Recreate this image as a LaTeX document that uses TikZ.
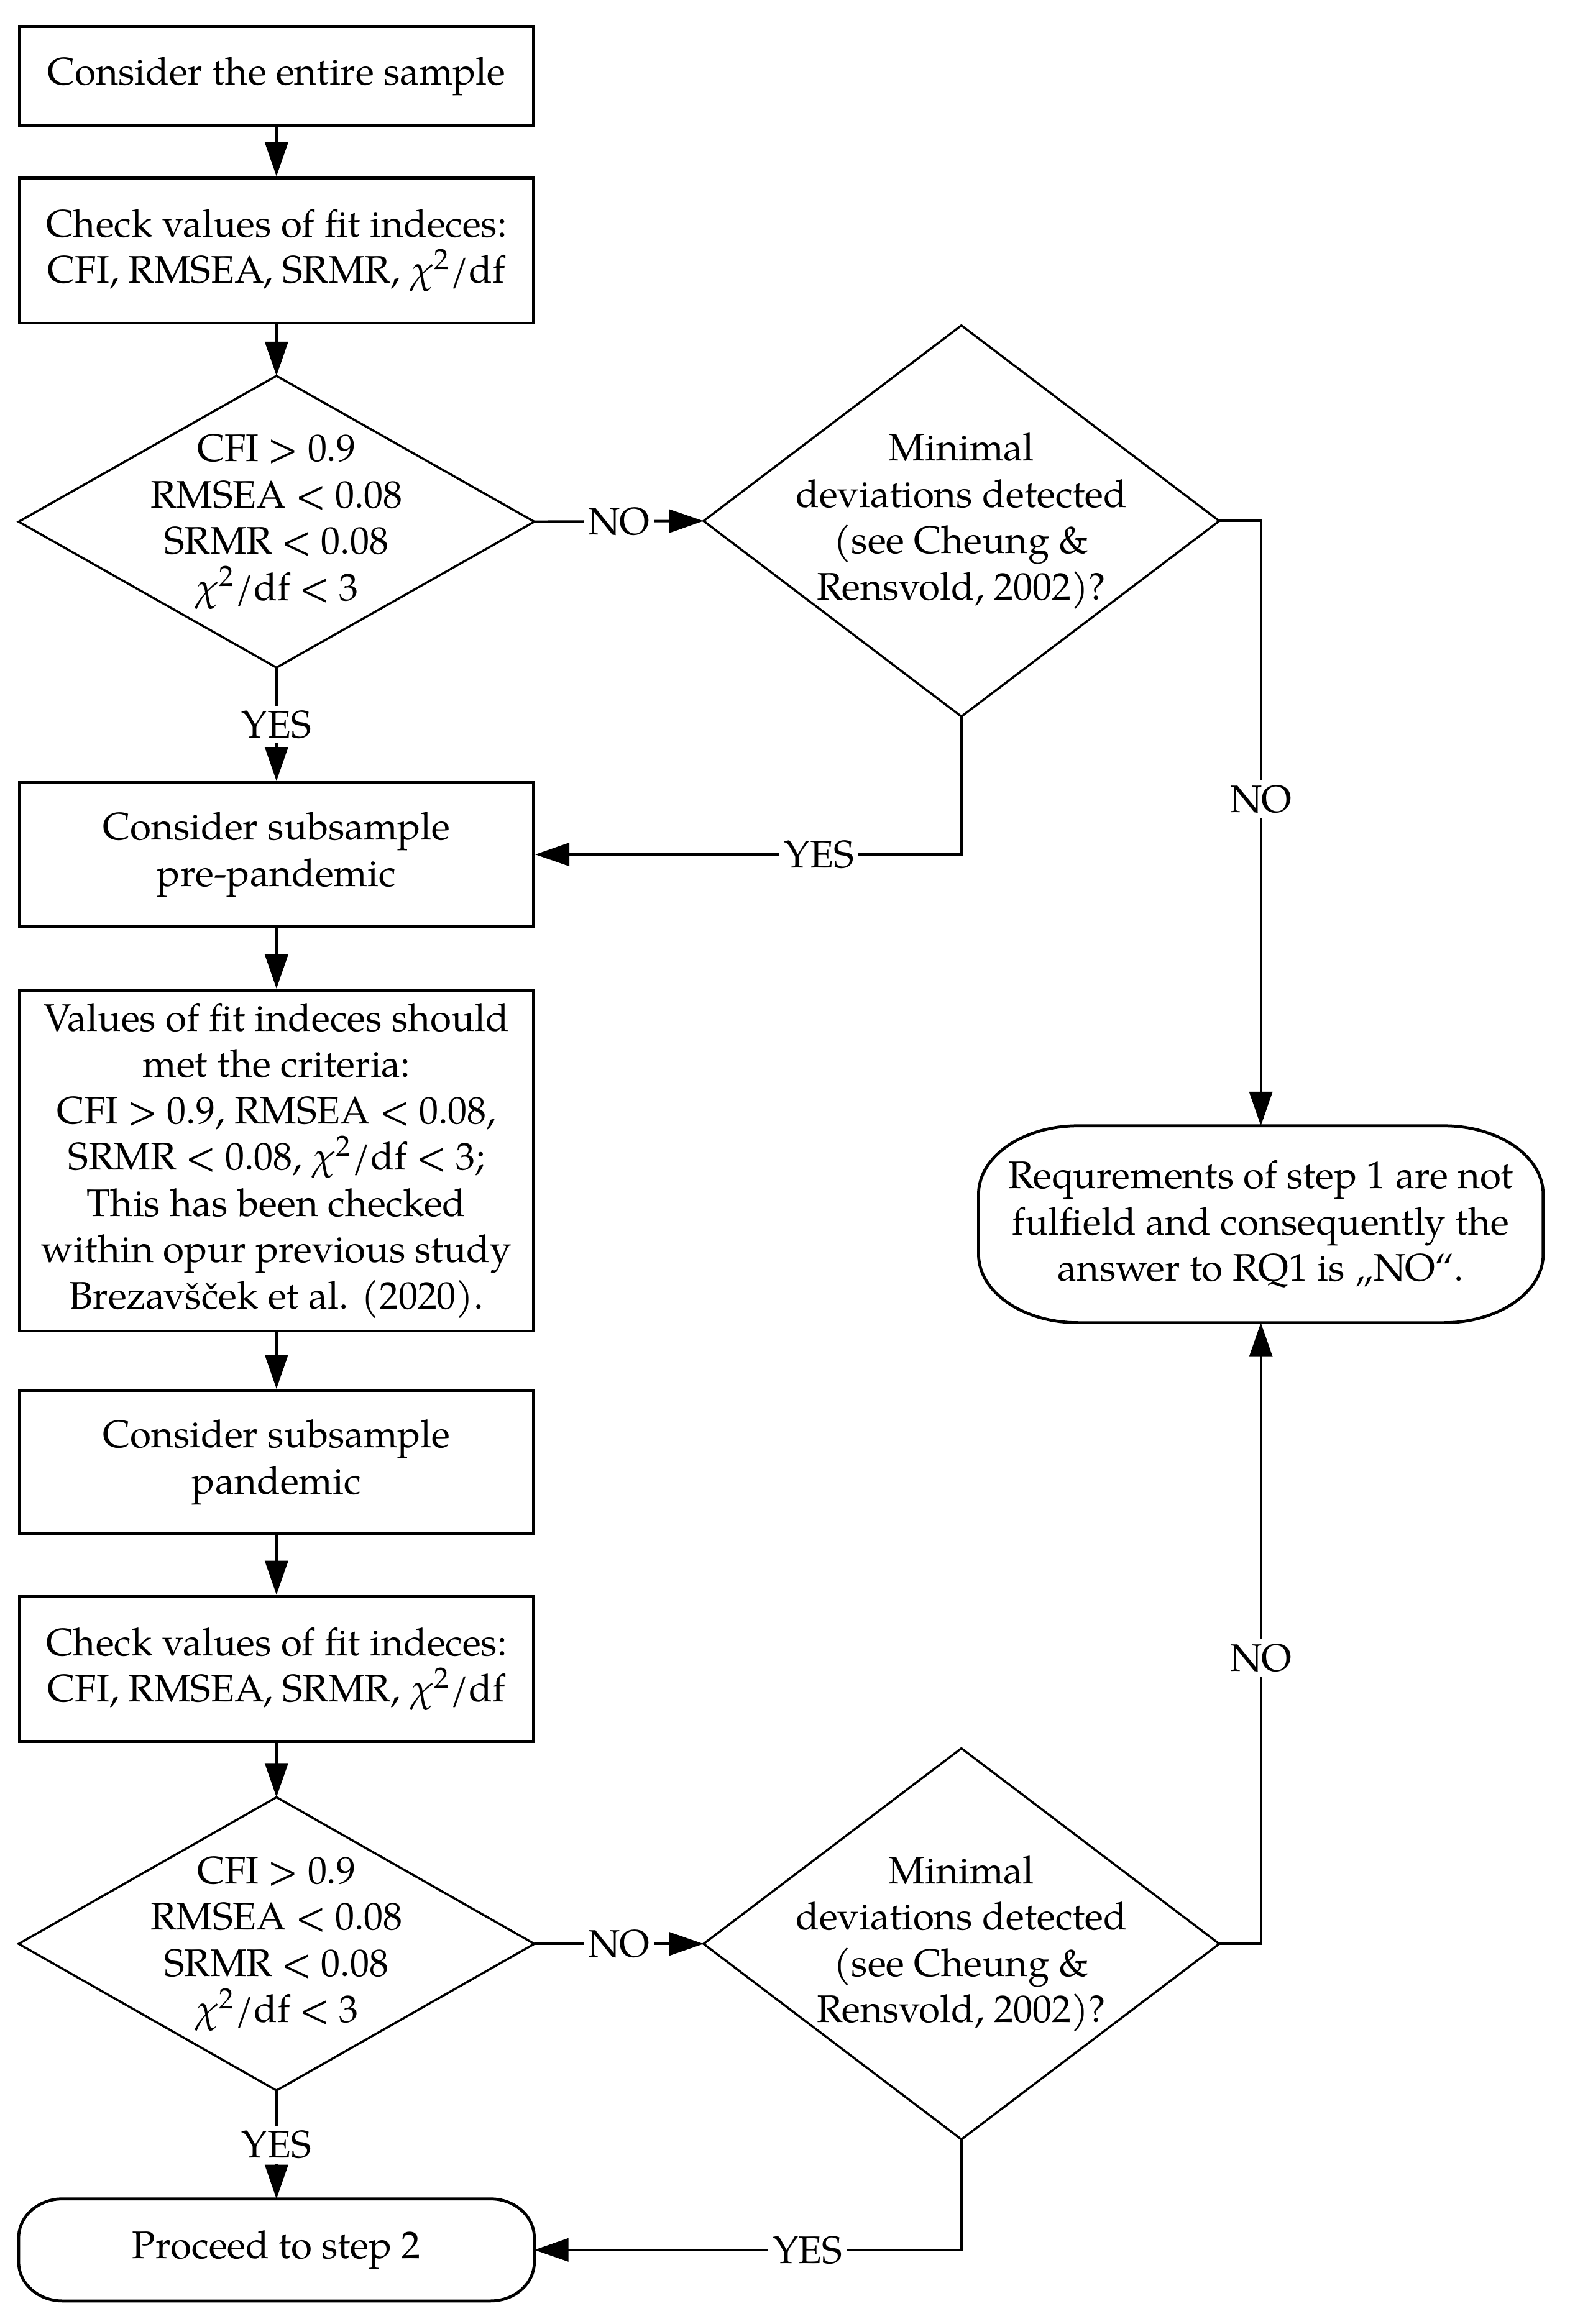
\documentclass[tikz,border=0pt]{standalone}
\usepackage{mathpazo}
\usepackage{fontspec}
\setmainfont{TeX Gyre Pagella}
\usetikzlibrary{arrows.meta}
\newdimen\unitpx \unitpx=0.4773pt
\newcommand\fsz{\fontsize{12.4}{14.9}\selectfont}
\newcommand\termpath[3]{%
  \draw[boxline] ([xshift=#2]#1.north west) -- ([xshift=-#2]#1.north east)
    arc[start angle=90,end angle=0,x radius=#2,y radius=#3]
    -- ([yshift=#3]#1.south east)
    arc[start angle=0,end angle=-90,x radius=#2,y radius=#3]
    -- ([xshift=#2]#1.south west)
    arc[start angle=-90,end angle=-180,x radius=#2,y radius=#3]
    -- ([yshift=-#3]#1.north west)
    arc[start angle=180,end angle=90,x radius=#2,y radius=#3] -- cycle;}
\begin{document}
\begin{tikzpicture}[x=0.4773pt, y=-0.4773pt,
  boxline/.style={line width=0.95pt},
  procbox/.style={draw, boxline, rectangle, minimum width=347\unitpx, inner sep=0pt, align=center, font=\fsz},
  decis/.style={rectangle, minimum width=347\unitpx, inner sep=0pt, align=center, font=\fsz},
  termbox/.style={rectangle, inner sep=0pt, align=center, font=\fsz},
  conn/.style={line width=0.8pt, -{Triangle[length=11pt,width=7.4pt]}},
  plainconn/.style={line width=0.8pt},
  lab/.style={fill=white, inner sep=1.5pt, font=\fsz}]
\useasboundingbox (0,0) rectangle (1059,1568);

\node[procbox, minimum height=67\unitpx] (b1) at (186.5,51.5) {Consider the entire sample};
\node[procbox, minimum height=98\unitpx] (b2) at (186.5,169) {Check values of fit indeces:\\CFI, RMSEA, SRMR, $\chi^2$/df};
\node[decis, minimum height=196\unitpx] (d1) at (186.5,352) {CFI > 0.9\\RMSEA < 0.08\\SRMR < 0.08\\$\chi^2$/df < 3};
\node[decis, minimum height=263\unitpx] (d2) at (648.5,351.5) {Minimal\\deviations detected\\(see Cheung \&\\Rensvold, 2002)?};
\node[procbox, minimum height=97\unitpx] (b3) at (186.5,576.5) {Consider subsample\\pre-pandemic};
\node[procbox, minimum height=230\unitpx] (b4) at (186.5,783) {Values of fit indeces should\\met the criteria:\\CFI > 0.9, RMSEA < 0.08,\\SRMR < 0.08, $\chi^2$/df < 3;\\This has been checked\\within opur previous study\\Brezavšček et al. (2020).};
\node[procbox, minimum height=97\unitpx] (b5) at (186.5,986.5) {Consider subsample\\pandemic};
\node[procbox, minimum height=98\unitpx] (b6) at (186.5,1126) {Check values of fit indeces:\\CFI, RMSEA, SRMR, $\chi^2$/df};
\node[decis, minimum height=197\unitpx] (d3) at (186.5,1311.5) {CFI > 0.9\\RMSEA < 0.08\\SRMR < 0.08\\$\chi^2$/df < 3};
\node[decis, minimum height=263\unitpx] (d4) at (648.5,1311.5) {Minimal\\deviations detected\\(see Cheung \&\\Rensvold, 2002)?};
\node[termbox, minimum width=347\unitpx, minimum height=68\unitpx] (t1) at (186.5,1518) {Proceed to step 2};
\node[termbox, minimum width=380\unitpx, minimum height=132\unitpx] (t2) at (850.5,826) {Requrements of step 1 are not\\fulfield and consequently the\\answer to RQ1 is „NO“.};

\foreach \n in {d1,d2,d3,d4}
  \draw[line width=0.7pt, line join=miter] (\n.north) -- (\n.east) -- (\n.south) -- (\n.west) -- cycle;
\termpath{t1}{14.1pt}{12.5pt}
\termpath{t2}{32pt}{22pt}

\draw[conn] (b1) -- (b2);
\draw[conn] (b2) -- (d1.north);
\draw[conn] (d1.east) -- node[lab]{NO} (d2.west);
\draw[conn] (d1.south) -- node[lab]{YES} (b3);
\draw[conn] (d2.south) |- node[lab, pos=0.667]{YES} (b3.east);
\draw[conn] (d2.east) -| node[lab, pos=0.73]{NO} (t2.north);
\draw[conn] (b3) -- (b4);
\draw[conn] (b4) -- (b5);
\draw[conn] (b5) -- (b6);
\draw[conn] (b6) -- (d3.north);
\draw[conn] (d3.east) -- node[lab]{NO} (d4.west);
\draw[conn] (d3.south) -- node[lab]{YES} (t1.north);
\draw[conn] (d4.south) |- node[lab, pos=0.68]{YES} (t1.east);
\draw[conn] (d4.east) -| node[lab, pos=0.73]{NO} (t2.south);
\end{tikzpicture}
\end{document}
